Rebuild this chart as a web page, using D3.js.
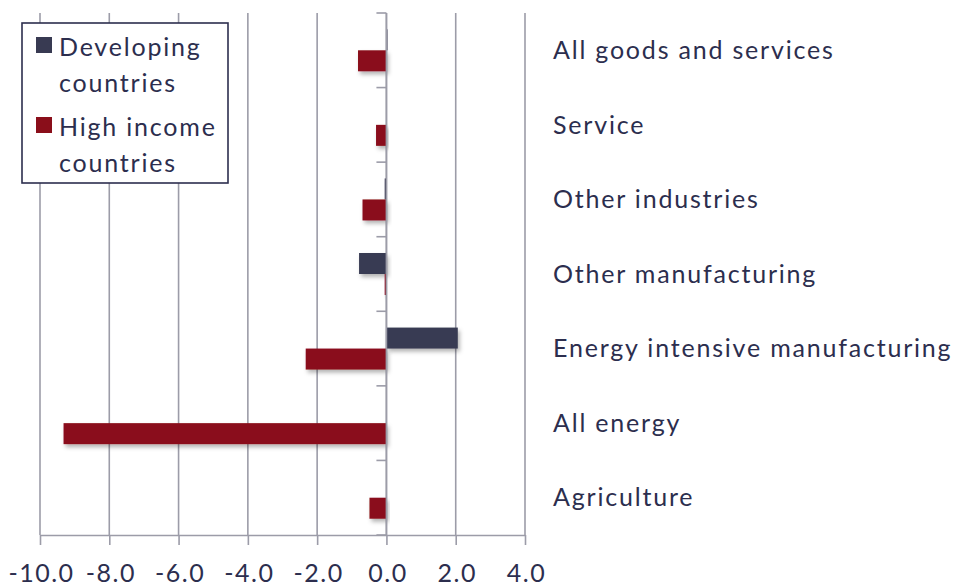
<!DOCTYPE html>
<html><head><meta charset="utf-8">
<script src="https://cdn.jsdelivr.net/npm/d3@7"></script>
<style>
html,body{margin:0;padding:0;background:#fff;}
svg text{font-family:Lato,"Open Sans",sans-serif;fill:#2c2e4e;letter-spacing:1.8px;}
</style></head><body>
<svg id="chart" width="957" height="588"></svg>
<script>
const categories = ["All goods and services","Service","Other industries","Other manufacturing","Energy intensive manufacturing","All energy","Agriculture"];
const seriesNames = ["Developing countries","High income countries"];
const developing = [0.03, 0.01, -0.05, -0.79, 2.06, 0.01, 0.01];
const highIncome = [-0.82, -0.30, -0.69, -0.05, -2.33, -9.32, -0.49];
const xTicks = [-10, -8, -6, -4, -2, 0, 2, 4];
const colors = ["#383a52", "#8a0e1a"];

const svg = d3.select("#chart");
const x = d3.scaleLinear().domain([-10, 4]).range([40, 525]);
const y = d3.scaleBand().domain(categories).range([13, 535]).padding(0);
const sub = d3.scaleBand().domain(seriesNames).range([-21, 21]).padding(0);

const defs = svg.append("defs");
const f = defs.append("filter").attr("id","shadow").attr("x","-20%").attr("y","-30%").attr("width","140%").attr("height","180%");
f.append("feDropShadow").attr("dx",2).attr("dy",3).attr("stdDeviation",2).attr("flood-color","#000").attr("flood-opacity",0.3);

// grid
svg.append("g").selectAll("line").data(xTicks).join("line")
  .attr("x1", d=>x(d)).attr("x2", d=>x(d)).attr("y1", 13).attr("y2", 535)
  .attr("stroke", "#9c9ca8").attr("stroke-width", 1.6);

// x axis
const fmt = d => d3.format(".1f")(d).replace("\u2212","-");
const xAxis = svg.append("g").attr("transform","translate(0,535)")
  .call(d3.axisBottom(x).tickValues(xTicks).tickFormat(fmt).tickSize(10).tickSizeOuter(0));
xAxis.select(".domain").attr("stroke","#9c9ca8").attr("stroke-width",1.6);
xAxis.selectAll(".tick line").attr("stroke","#9c9ca8").attr("stroke-width",1.6);
xAxis.selectAll(".tick text").attr("font-size",25).attr("y",null).attr("dy",null)
  .attr("transform","translate(1,47)").attr("fill","#2c2e4e")
  .style("font-family","Lato, sans-serif").style("letter-spacing","1.5px");

// bars
const data = categories.map((c,i)=>({cat:c, vals:[developing[i], highIncome[i]]}));
const groups = svg.append("g").selectAll("g").data(data).join("g")
  .attr("transform", d=>`translate(0,${y(d.cat)+y.bandwidth()/2})`);
groups.selectAll("rect").data(d=>d.vals.map((v,j)=>({v, s:seriesNames[j], j}))).join("rect")
  .attr("x", d=>x(Math.min(0,d.v))).attr("width", d=>Math.abs(x(d.v)-x(0)))
  .attr("y", d=>sub(d.s)).attr("height", sub.bandwidth())
  .attr("fill", d=>colors[d.j]).attr("filter","url(#shadow)");

// y axis at zero
svg.append("line").attr("x1",x(0)).attr("x2",x(0)).attr("y1",13).attr("y2",535)
  .attr("stroke","#9c9ca8").attr("stroke-width",1.6);
const bounds = categories.map(c=>y(c)).concat([535]);
svg.append("g").selectAll("line").data(bounds).join("line")
  .attr("x1",x(0)-10).attr("x2",x(0)).attr("y1",d=>d).attr("y2",d=>d)
  .attr("stroke","#9c9ca8").attr("stroke-width",1.6);

// category labels
svg.append("g").selectAll("text").data(categories).join("text")
  .attr("x",553).attr("y",d=>y(d)+y.bandwidth()/2).attr("dy","0.35em")
  .attr("font-size",25).text(d=>d);

// legend
const lg = svg.append("g");
lg.append("rect").attr("x",22).attr("y",23).attr("width",206).attr("height",160)
  .attr("fill","#fff").attr("stroke","#2c2e4e").attr("stroke-width",1.6);
const legendLines = [["Developing","countries"],["High income","countries"]];
legendLines.forEach((ls,i)=>{
  const y0 = 37 + i*80;
  lg.append("rect").attr("x",36).attr("y",y0).attr("width",16).attr("height",16).attr("fill",colors[i]);
  ls.forEach((t,k)=>{
    lg.append("text").attr("x",59).attr("y",y0+19+k*36).attr("font-size",25).text(t);
  });
});
</script></body></html>
